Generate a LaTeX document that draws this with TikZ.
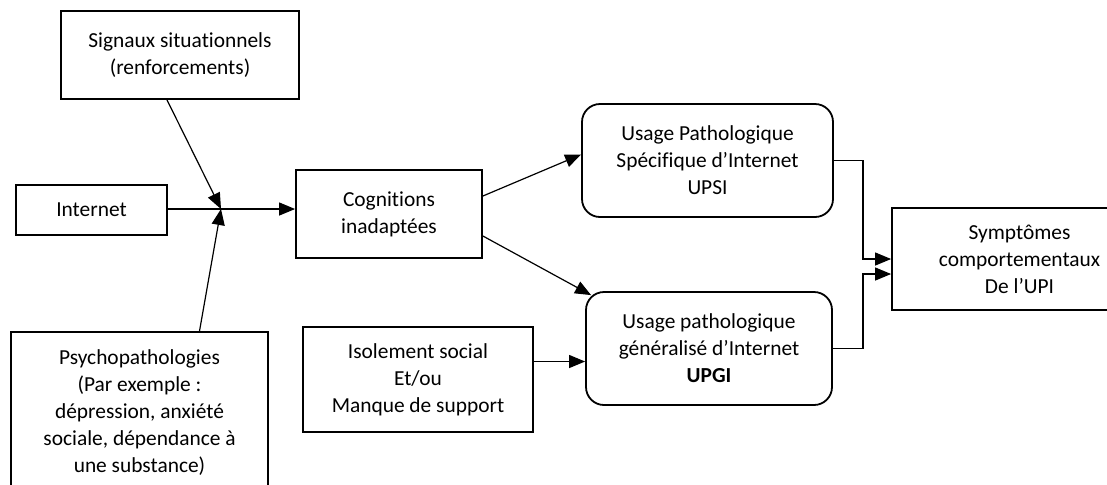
\documentclass[tikz,border=0pt]{standalone}
\usepackage{fontspec}
\setmainfont{Carlito}[Ligatures=NoCommon]
\usetikzlibrary{arrows.meta}

\begin{document}
\begin{tikzpicture}[x=0.5pt, y=-0.5pt,
    box/.style={draw, line width=0.9pt, align=center, inner sep=0pt, font=\fontsize{10.7}{13.5}\selectfont},
    rbox/.style={box, rounded corners=9pt},
    arr/.style={line width=0.6pt, -{Triangle[length=8pt,width=6.5pt]}}]
    \useasboundingbox (0,0) rectangle (1107,484);
    \clip (0,0) rectangle (1107,484);
    \node[box, minimum width=119pt, minimum height=44pt] at (180,55) (sig) {Signaux situationnels\\(renforcements)};
    \node[box, minimum width=75.5pt, minimum height=25pt] at (91.5,210) (inet) {Internet};
    \node[box, minimum width=128.5pt, minimum height=81pt] at (139.5,413) (psy) {Psychopathologies\\(Par exemple :\\dépression, anxiété\\sociale, dépendance à\\une substance)};
    \node[box, minimum width=93pt, minimum height=44pt] at (389,214) (cog) {Cognitions\\inadaptées};
    \node[box, minimum width=115pt, minimum height=52.5pt] at (418,379.5) (iso) {Isolement social\\Et/ou\\Manque de support};
    \node[rbox, minimum width=125.5pt, minimum height=56.5pt] at (707.5,160.5) (upsi) {Usage Pathologique\\Spécifique d’Internet\\UPSI};
    \node[rbox, minimum width=123pt, minimum height=56.5pt] at (709,348.5) (upgi) {Usage pathologique\\généralisé d’Internet\\\textbf{UPGI}};
    \node[box, minimum width=127.5pt, minimum height=51pt] at (1019.5,259) (sym) {Symptômes\\comportementaux\\De l’UPI};
    \coordinate (j) at (221,209);
    \draw[line width=0.6pt] (inet.east |- j) -- (j);
    \draw[arr] ([xshift=-6.5pt]sig.south) -- (j);
    \draw[arr] ([xshift=30pt]psy.north) -- (j);
    \draw[arr] (j) -- (j -| cog.west);
    \draw[arr] ([yshift=9pt]cog.east) -- ([yshift=3pt]upsi.west);
    \draw[arr] ([yshift=-11pt]cog.east) -- ([shift={(3pt,-2pt)}]upgi.north west);
    \draw[arr] ([yshift=9pt]iso.east) coordinate (i) -- (i -| upgi.west);
    \draw[arr] (upsi.east) - ++(14.5pt,0) |- (sym.west);
    \draw[arr] (upgi.east) - ++(15pt,0) |- ([yshift=-7.5pt]sym.west);
\end{tikzpicture}
\end{document}
